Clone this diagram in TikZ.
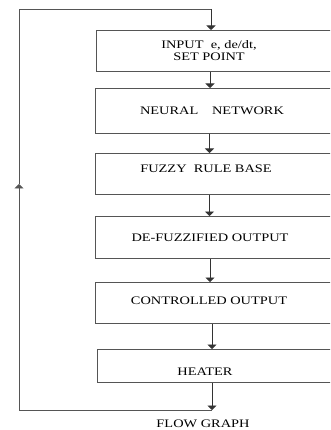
\documentclass[tikz,border=0pt]{standalone}
\usepackage{fontspec}
\setmainfont[FakeStretch=1.25]{Liberation Serif}
\usetikzlibrary{arrows.meta}
\definecolor{linegray}{HTML}{555555}
\definecolor{txtblack}{HTML}{000000}
\begin{document}
\begin{tikzpicture}[x=1pt,y=-1pt,
  line width=0.9pt,
  box/.style={draw=linegray, rectangle, minimum width=260pt, anchor=north west, inner sep=0pt},
  txt/.style={font=\fontsize{11.5}{12}\selectfont, text=txtblack, align=center, inner sep=0pt},
  arr/.style={draw=black!80, -{Triangle[width=9pt,length=4.5pt]}},
  ln/.style={draw=linegray}]
\useasboundingbox (0,0) rectangle (330,430);
\clip (0,0) rectangle (330,430);
% boxes
\node[box, minimum height=41pt] (b1) at (96,30) {};
\node[box, minimum height=45pt] (b2) at (95,88) {};
\node[box, minimum height=41pt] (b3) at (95,153) {};
\node[box, minimum height=42pt] (b4) at (95,216) {};
\node[box, minimum height=41pt] (b5) at (95,282) {};
\node[box, minimum height=33pt] (b6) at (97,349) {};
% texts
\node[txt] (t1) at (209,51) {INPUT\ \ e, de/dt,\\ SET POINT};
\node[txt] (t2) at (212,111) {NEURAL\hspace{1.2em}NETWORK};
\node[txt] (t3) at (206,169) {FUZZY\ \ RULE BASE};
\node[txt] (t4) at (210,237.5) {DE-FUZZIFIED OUTPUT};
\node[txt] (t5) at (209,301) {CONTROLLED OUTPUT};
\node[txt] (t6) at (205,371.5) {HEATER};
\node[txt] (t7) at (203,424) {FLOW GRAPH};
% x positions
\coordinate (xa) at (210,0);
\coordinate (xb) at (209.5,0);
\coordinate (xc) at (212,0);
% arrows between boxes
\draw[arr] (b1.south -| xa) -- (b2.north -| xa);
\draw[arr] (b2.south -| xb) -- (b3.north -| xb);
\draw[arr] (b3.south -| xb) -- (b4.north -| xb);
\draw[arr] (b4.south -| xa) -- (b5.north -| xa);
\draw[arr] (b5.south -| xc) -- (b6.north -| xc);
% feedback loop
\coordinate (fb) at (212,410);
\coordinate (bl) at (19,410);
\coordinate (mid) at (19,184);
\coordinate (tl) at (19,9);
\coordinate (tr) at (211,9);
\draw[arr] (b6.south -| fb) -- (fb);
\draw[ln] (fb) -- (bl);
\draw[arr, draw=linegray] (bl) -- (mid);
\draw[ln] (mid) -- (tl) -- (tr);
\draw[arr] (tr) -- (tr |- b1.north);
\end{tikzpicture}
\end{document}
